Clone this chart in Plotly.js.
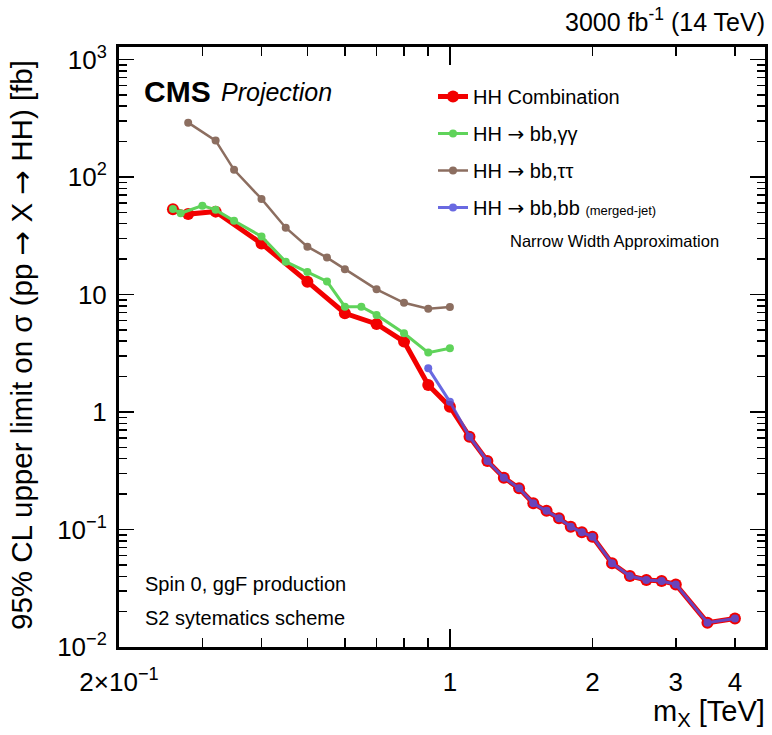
<!DOCTYPE html>
<html>
<head>
<meta charset="utf-8">
<script src="https://cdn.plot.ly/plotly-3.0.1.min.js"></script>
<style>html,body{margin:0;padding:0;background:#fff;}#chart{width:772px;height:735px;}</style>
</head>
<body>
<div id="chart"></div>
<script>
// ---- data ----
const comboMass = [0.26, 0.28, 0.32, 0.4, 0.5, 0.6, 0.7, 0.8, 0.9, 1.0, 1.1, 1.2, 1.3, 1.4, 1.5, 1.6, 1.7, 1.8, 1.9, 2.0, 2.2, 2.4, 2.6, 2.8, 3.0, 3.5, 4.0];
const comboVal  = [53.1, 48.3, 50.7, 27.1, 12.85, 6.92, 5.61, 3.97, 1.70, 1.11, 0.616, 0.383, 0.276, 0.224, 0.167, 0.1446, 0.1245, 0.1057, 0.0946, 0.0868, 0.0516, 0.0402, 0.0372, 0.0365, 0.0341, 0.0161, 0.0175];

const bbggMass = [0.26, 0.27, 0.3, 0.32, 0.35, 0.4, 0.45, 0.5, 0.55, 0.6, 0.65, 0.7, 0.8, 0.9, 1.0];
const bbggVal  = [53.5, 49.1, 57.0, 52.5, 42.3, 31.2, 19.0, 15.5, 12.9, 7.87, 7.87, 6.7, 4.67, 3.2, 3.48];

const bbttMass = [0.28, 0.32, 0.35, 0.4, 0.45, 0.5, 0.55, 0.6, 0.7, 0.8, 0.9, 1.0];
const bbttVal  = [290, 204, 115, 65, 37, 25.5, 20.6, 16.4, 11.07, 8.5, 7.55, 7.83];

const bbbbMass = [0.9, 1.0, 1.1, 1.2, 1.3, 1.4, 1.5, 1.6, 1.7, 1.8, 1.9, 2.0, 2.2, 2.4, 2.6, 2.8, 3.0, 3.5, 4.0];
const bbbbVal  = [2.36, 1.22, 0.616, 0.383, 0.276, 0.224, 0.167, 0.1446, 0.1245, 0.1057, 0.0946, 0.0868, 0.0516, 0.0402, 0.0372, 0.0365, 0.0341, 0.0161, 0.0175];

const ARROW = '<span style="font-family:DejaVu Sans">\u2192</span>';
const seriesNames = ['HH Combination', 'HH ' + ARROW + ' bb,\u03b3\u03b3', 'HH ' + ARROW + ' bb,\u03c4\u03c4',
                     'HH ' + ARROW + ' bb,bb <span style="font-size:13px">(merged-jet)</span>'];

// ---- ticks ----
const xTickVals = [0.2, 1, 2, 3, 4];
const xTickText = ['2\u00d710<sup>\u22121</sup>', '1', '2', '3', '4'];
const xMinorVals = [0.3, 0.4, 0.5, 0.6, 0.7, 0.8, 0.9];
const xMajorLong = [1];
const yTickVals = [0.01, 0.1, 1, 10, 100, 1000];
const yTickText = ['10<sup>\u22122</sup>', '10<sup>\u22121</sup>', '1', '10', '10<sup>2</sup>', '10<sup>3</sup>'];
const yMantissas = [2, 3, 4, 5, 6, 7, 8, 9];
const yDecades = [0.01, 0.1, 1, 10, 100];
const yMinorVals = [];
yDecades.forEach(d => yMantissas.forEach(m => yMinorVals.push(m * d)));

const FONT = 'Liberation Sans, Arial, Helvetica, sans-serif';
const xRange = [Math.log10(0.2), Math.log10(4.63)];
const yRange = [-2, 3.106];

const traces = [
  {x: comboMass, y: comboVal, name: seriesNames[0], mode: 'lines+markers', legendgroup: 'a',
   line: {color: '#f20000', width: 5}, marker: {color: '#f20000', size: 12}},
  {x: bbggMass, y: bbggVal, name: seriesNames[1], mode: 'lines+markers', legendgroup: 'b',
   line: {color: '#5fd35a', width: 3}, marker: {color: '#5fd35a', size: 8}},
  {x: bbttMass, y: bbttVal, name: seriesNames[2], mode: 'lines+markers', legendgroup: 'c',
   line: {color: '#8c6e60', width: 2.5}, marker: {color: '#8c6e60', size: 8}},
  {x: bbbbMass, y: bbbbVal, name: seriesNames[3], mode: 'lines+markers', legendgroup: 'd', opacity: 0.85,
   line: {color: '#5050dc', width: 3}, marker: {color: '#5050dc', size: 8}},
  // carrier for the overlay axis that draws the long major tick at 1 TeV
  {x: bbbbMass, y: bbbbVal, xaxis: 'x2', mode: 'lines', line: {width: 0, color: 'rgba(0,0,0,0)'},
   showlegend: false, hoverinfo: 'skip'}
];

const L = 119, R = 765, T = 47, B = 647;
const px = v => (v - L) / (R - L);
const py = v => (B - v) / (B - T);

const layout = {
  width: 772, height: 735,
  margin: {l: L, r: 772 - R, t: T, b: 735 - B},
  paper_bgcolor: '#fff', plot_bgcolor: '#fff',
  font: {family: FONT, color: '#000'},
  showlegend: true,
  legend: {x: px(433), y: py(77), xanchor: 'left', yanchor: 'top', bgcolor: 'rgba(0,0,0,0)',
           font: {size: 20, family: FONT}, tracegroupgap: 8, itemwidth: 30},
  xaxis: {type: 'log', range: xRange, showgrid: false, zeroline: false,
          showline: true, linewidth: 3, linecolor: '#000', mirror: 'ticks',
          ticks: 'inside', ticklen: 9, tickwidth: 1.5, tickcolor: '#000',
          tickmode: 'array', tickvals: xTickVals, ticktext: xTickText,
          tickfont: {size: 26, family: FONT}, ticklabelstandoff: 10,
          minor: {tickmode: 'array', tickvals: xMinorVals, ticks: 'inside', ticklen: 9, tickwidth: 1.5, tickcolor: '#000', showgrid: false}},
  xaxis2: {type: 'log', range: xRange, overlaying: 'x', anchor: 'y', side: 'bottom',
           showgrid: false, zeroline: false, showline: false, mirror: 'ticks',
           ticks: 'inside', ticklen: 18, tickwidth: 1.5, tickcolor: '#000',
           tickmode: 'array', tickvals: xMajorLong, showticklabels: false},
  yaxis: {type: 'log', range: yRange, showgrid: false, zeroline: false,
          showline: true, linewidth: 3, linecolor: '#000', mirror: 'ticks',
          ticks: 'inside', ticklen: 15, tickwidth: 1.5, tickcolor: '#000',
          tickmode: 'array', tickvals: yTickVals, ticktext: yTickText,
          tickfont: {size: 26, family: FONT}, ticklabelstandoff: 4,
          minor: {tickmode: 'array', tickvals: yMinorVals, ticks: 'inside', ticklen: 8, tickwidth: 1.5, tickcolor: '#000', showgrid: false}},
  annotations: [
    {text: '3000 fb<sup>-1</sup> (14 TeV)', xref: 'paper', yref: 'paper', x: px(767), y: py(20),
     xanchor: 'right', yanchor: 'middle', showarrow: false, font: {size: 25, family: FONT}},
    {text: '<b>CMS</b>', xref: 'paper', yref: 'paper', x: px(142), y: py(91),
     xanchor: 'left', yanchor: 'middle', showarrow: false, font: {size: 30, family: FONT}},
    {text: '<i>Projection</i>', xref: 'paper', yref: 'paper', x: px(219), y: py(92),
     xanchor: 'left', yanchor: 'middle', showarrow: false, font: {size: 25, family: FONT}},
    {text: 'Narrow Width Approximation', xref: 'paper', yref: 'paper', x: px(508), y: py(241),
     xanchor: 'left', yanchor: 'middle', showarrow: false, font: {size: 16.5, family: FONT}},
    {text: 'Spin 0, ggF production', xref: 'paper', yref: 'paper', x: px(143), y: py(584),
     xanchor: 'left', yanchor: 'middle', showarrow: false, font: {size: 20, family: FONT}},
    {text: 'S2 sytematics scheme', xref: 'paper', yref: 'paper', x: px(143), y: py(618),
     xanchor: 'left', yanchor: 'middle', showarrow: false, font: {size: 20, family: FONT}},
    {text: 'm<sub>X</sub> [TeV]', xref: 'paper', yref: 'paper', x: px(767), y: py(713),
     xanchor: 'right', yanchor: 'middle', showarrow: false, font: {size: 29, family: FONT}},
    {text: '95% CL upper limit on \u03c3 (pp ' + ARROW + ' X ' + ARROW + ' HH) [fb]', xref: 'paper', yref: 'paper',
     x: px(22), y: py(345), xanchor: 'center', yanchor: 'middle', textangle: -90,
     showarrow: false, font: {size: 29.5, family: FONT}}
  ]
};

Plotly.newPlot('chart', traces, layout, {displayModeBar: false, staticPlot: true});
</script>
</body>
</html>
